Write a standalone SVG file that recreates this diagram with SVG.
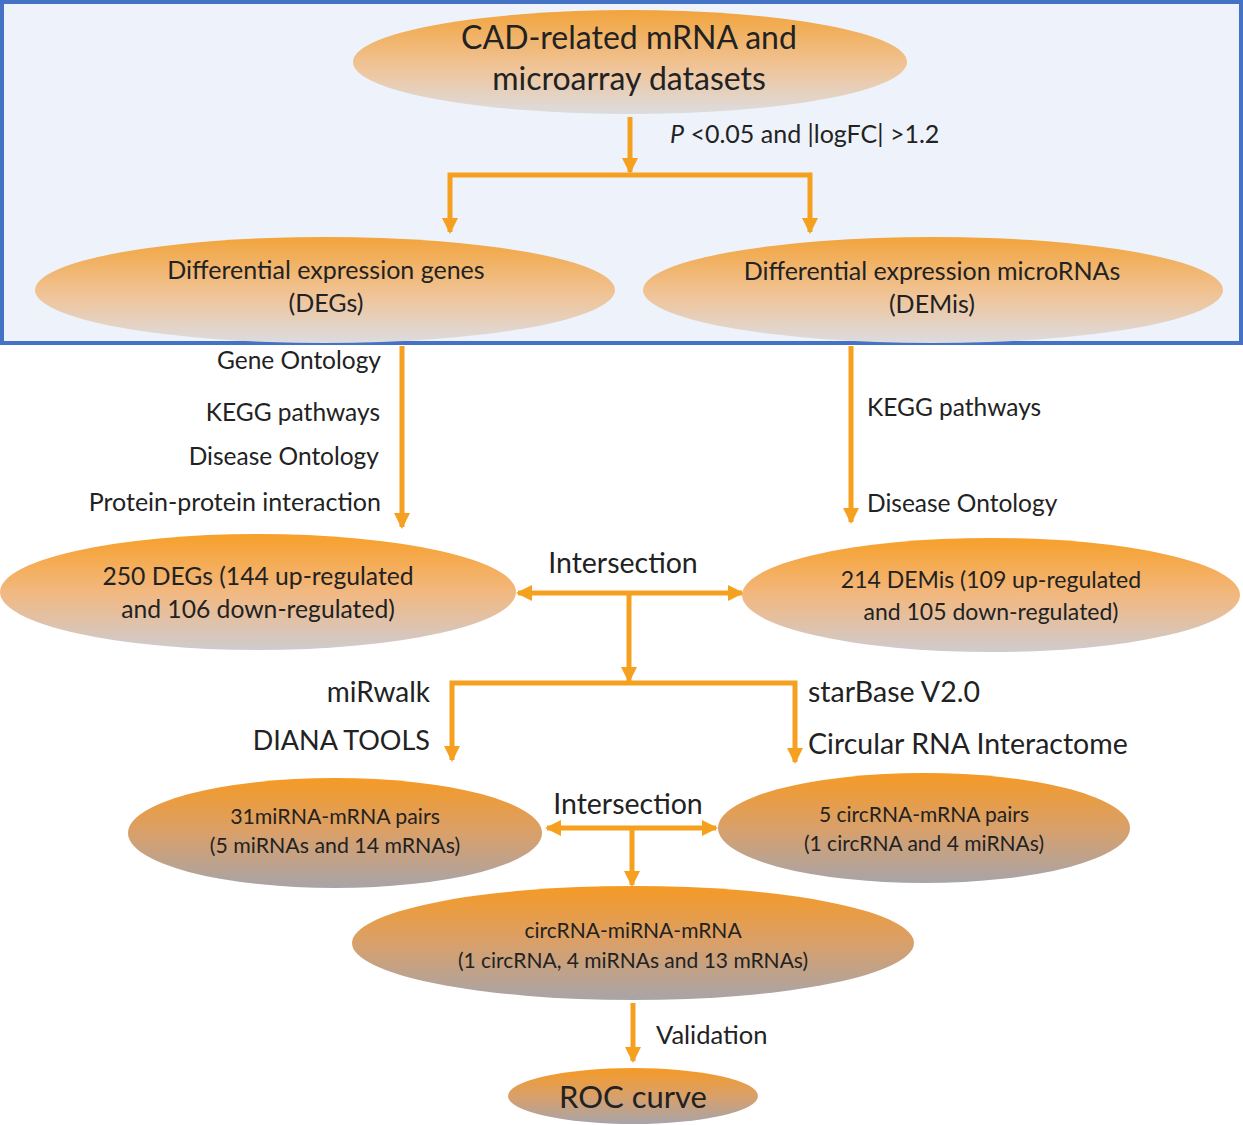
<svg xmlns="http://www.w3.org/2000/svg" width="1243" height="1125" viewBox="0 0 1243 1125">
<defs>
<linearGradient id="gLight" x1="0" y1="0" x2="0" y2="1">
<stop offset="0" stop-color="#f2a43c"/>
<stop offset="0.55" stop-color="#f0c498"/>
<stop offset="1" stop-color="#dcdcdf"/>
</linearGradient>
<linearGradient id="gMid" x1="0" y1="0" x2="0" y2="1">
<stop offset="0" stop-color="#f7a02a"/>
<stop offset="0.5" stop-color="#f2b880"/>
<stop offset="1" stop-color="#cfcbcf"/>
</linearGradient>
<linearGradient id="gDark" x1="0" y1="0" x2="0" y2="1">
<stop offset="0" stop-color="#f59a25"/>
<stop offset="0.5" stop-color="#d9a06a"/>
<stop offset="1" stop-color="#a8a4a8"/>
</linearGradient>
<marker id="ah" viewBox="0 0 16 16" refX="14" refY="8" markerWidth="16" markerHeight="16" markerUnits="userSpaceOnUse" orient="auto-start-reverse">
<path d="M0,0 L16,8 L0,16 Z" fill="#f5a01e"/>
</marker>
<style>
.t{font-family:Lato,"Open Sans","Liberation Sans",sans-serif;fill:#222222;}
.c{text-anchor:middle;}
.r{text-anchor:end;}
.ln{fill:none;stroke:#f5a01e;stroke-width:5;}
</style>
</defs>
<rect x="0" y="0" width="1243" height="1125" fill="#ffffff"/>
<rect x="2" y="2" width="1239" height="341" fill="#eef3fb" stroke="#4472c4" stroke-width="4"/>

<g id="connectors">
<path class="ln" d="M630,117 V172" marker-end="url(#ah)"/>
<path class="ln" d="M450,232 V175 H810 V232" marker-start="url(#ah)" marker-end="url(#ah)"/>
<path class="ln" d="M402,346 V527" marker-end="url(#ah)"/>
<path class="ln" d="M851,346 V522" marker-end="url(#ah)"/>
<path class="ln" d="M518,593 H742" marker-start="url(#ah)" marker-end="url(#ah)"/>
<path class="ln" d="M629,595 V681" marker-end="url(#ah)"/>
<path class="ln" d="M452,760 V683 H795 V762" marker-start="url(#ah)" marker-end="url(#ah)"/>
<path class="ln" d="M547,828 H716" marker-start="url(#ah)" marker-end="url(#ah)"/>
<path class="ln" d="M632,830 V885" marker-end="url(#ah)"/>
<path class="ln" d="M633,1003 V1061" marker-end="url(#ah)"/>
</g>

<g id="labels">
<text class="t" x="670" y="143" font-size="25"><tspan font-style="italic">P</tspan> &lt;0.05 and |logFC| &gt;1.2</text>
<text class="t r" x="381" y="369" font-size="24.5">Gene Ontology</text>
<text class="t r" x="380" y="421" font-size="24.5">KEGG pathways</text>
<text class="t r" x="379" y="465" font-size="24.5">Disease Ontology</text>
<text class="t r" x="381" y="511" font-size="25">Protein-protein interaction</text>
<text class="t" x="867" y="416" font-size="24.5">KEGG pathways</text>
<text class="t" x="867" y="512" font-size="24.5">Disease Ontology</text>
<text class="t c" x="623" y="573" font-size="28.5">Intersection</text>
<text class="t r" x="430" y="702" font-size="28">miRwalk</text>
<text class="t r" x="430" y="750" font-size="27">DIANA TOOLS</text>
<text class="t" x="808" y="702" font-size="28.5">starBase V2.0</text>
<text class="t" x="808" y="754" font-size="28.5">Circular RNA Interactome</text>
<text class="t c" x="628" y="814" font-size="28.5">Intersection</text>
<text class="t" x="656" y="1044" font-size="25.5">Validation</text>
</g>

<g id="n-top">
<ellipse cx="630" cy="62" rx="277" ry="52" fill="url(#gLight)"/>
<text class="t c" x="629" y="49" font-size="32">CAD-related mRNA and</text>
<text class="t c" x="629" y="90" font-size="32">microarray datasets</text>
</g>
<g id="n-degs">
<ellipse cx="325" cy="290" rx="290" ry="53" fill="url(#gLight)"/>
<text class="t c" x="326" y="279" font-size="25">Differential expression genes</text>
<text class="t c" x="326" y="312" font-size="25">(DEGs)</text>
</g>
<g id="n-demis">
<ellipse cx="933" cy="290" rx="290" ry="53" fill="url(#gLight)"/>
<text class="t c" x="932" y="280" font-size="25">Differential expression microRNAs</text>
<text class="t c" x="932" y="313" font-size="25">(DEMis)</text>
</g>
<g id="n-250">
<ellipse cx="258" cy="592" rx="258" ry="58" fill="url(#gMid)"/>
<text class="t c" x="258" y="585" font-size="24.7">250 DEGs (144 up-regulated</text>
<text class="t c" x="258" y="618" font-size="24.7">and 106 down-regulated)</text>
</g>
<g id="n-214">
<ellipse cx="991" cy="595" rx="249" ry="57" fill="url(#gMid)"/>
<text class="t c" x="991" y="588" font-size="23">214 DEMis (109 up-regulated</text>
<text class="t c" x="991" y="620" font-size="23">and 105 down-regulated)</text>
</g>
<g id="n-31">
<ellipse cx="335" cy="833" rx="207" ry="55" fill="url(#gDark)"/>
<text class="t c" x="335" y="824" font-size="21.3">31miRNA-mRNA pairs</text>
<text class="t c" x="335" y="853" font-size="21.3">(5 miRNAs and 14 mRNAs)</text>
</g>
<g id="n-5">
<ellipse cx="924" cy="828" rx="206" ry="55" fill="url(#gDark)"/>
<text class="t c" x="924" y="822" font-size="21">5 circRNA-mRNA pairs</text>
<text class="t c" x="924" y="851" font-size="21">(1 circRNA and 4 miRNAs)</text>
</g>
<g id="n-net">
<ellipse cx="633" cy="943" rx="281" ry="57" fill="url(#gDark)"/>
<text class="t c" x="633" y="938" font-size="21">circRNA-miRNA-mRNA</text>
<text class="t c" x="633" y="968" font-size="21">(1 circRNA, 4 miRNAs and 13 mRNAs)</text>
</g>
<g id="n-roc">
<ellipse cx="633" cy="1096" rx="125" ry="28" fill="url(#gDark)"/>
<text class="t c" x="633" y="1108" font-size="31">ROC curve</text>
</g>
</svg>
